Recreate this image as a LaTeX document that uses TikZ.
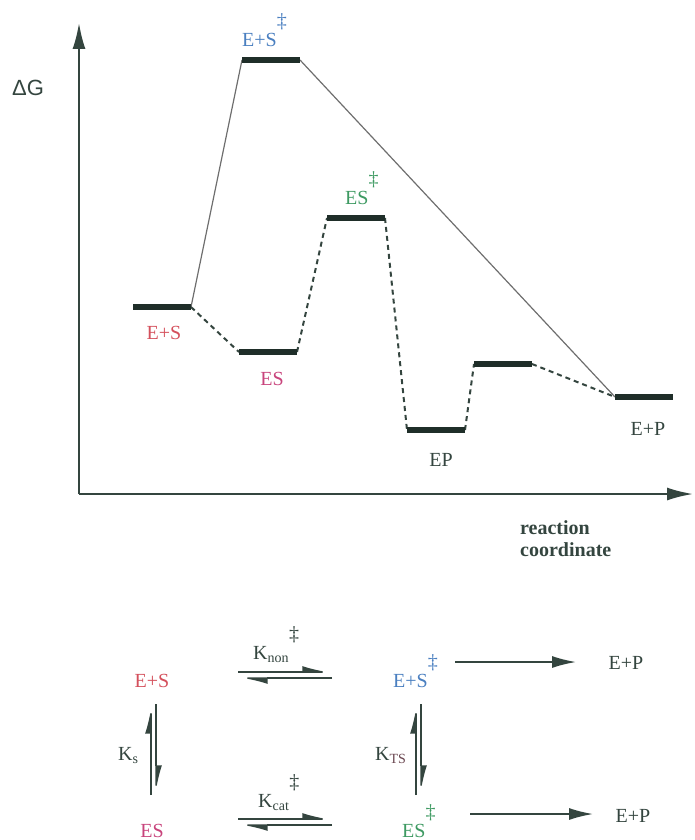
\documentclass[tikz,border=0pt]{standalone}
\usepackage{fontspec}
\setmainfont{Liberation Serif}
\newfontfamily\gsans{Liberation Sans}
\usepackage{tikz}
\usetikzlibrary{arrows.meta}
\definecolor{rxink}{HTML}{34453F}
\definecolor{rxbar}{HTML}{1F2E29}
\definecolor{rxline}{HTML}{6E6E6E}
\definecolor{rxred}{HTML}{D4505C}
\definecolor{rxpink}{HTML}{C8447C}
\definecolor{rxblue}{HTML}{4A7FC0}
\definecolor{rxgreen}{HTML}{3E9A62}
\definecolor{rxplum}{HTML}{6A4650}
\newcommand{\lblfont}{\fontsize{20}{22}\selectfont}
\newcommand{\dg}{\raisebox{0.95em}{‡}}

\begin{document}
\begin{tikzpicture}[x=1pt, y=-1pt, font=\lblfont, >=Latex,
  axis/.style={draw=rxink, line width=2pt, -{Latex[length=26pt,width=13pt]}},
  lvl/.style={draw=rxbar, line width=6pt},
  uncat/.style={draw=rxline, line width=1.2pt},
  cat/.style={draw=rxink, line width=2pt, dash pattern=on 5pt off 4pt},
  harp/.style={draw=rxink, line width=1.5pt, -{Latex[left,length=25pt,width=12pt]}},
  fwd/.style={draw=rxink, line width=1.6pt, -{Latex[length=24pt,width=12pt]}},
  lbl/.style={inner sep=0pt, text=rxink}]
  \useasboundingbox (0,0) rectangle (694,840);
  % ---------- energy profile ----------
  \coordinate (o) at (79,494);
  \coordinate (gtop) at (79,23);
  \coordinate (xend) at (693,494);
  \draw[axis] (o) -- (gtop);
  \draw[axis] (o) -- (xend);
  \node[lbl, font=\gsans\fontsize{22}{24}\selectfont] (dG) at (28,88) {ΔG};
  \node[lbl, font=\lblfont\bfseries, anchor=base west] (rc1) at (520,534) {reaction};
  \node[lbl, font=\lblfont\bfseries, anchor=base west] (rc2) at (520,556) {coordinate};
  \foreach \n/\x/\y in {eS/133/307, tN/242/60, eX/239/352, tC/327/218, eP/407/430, eQ/474/364, pR/615/397}
    { \coordinate (l\n) at (\x,\y); \coordinate (r\n) at (\x+58,\y); }
  \draw[uncat] (reS) -- (ltN);
  \draw[uncat] (rtN) -- (lpR);
  \draw[cat] (reS) -- (leX);
  \draw[cat] (reX) -- (ltC);
  \draw[cat] (rtC) -- (leP);
  \draw[cat] (reP) -- (leQ);
  \draw[cat] (reQ) -- (lpR);
  \foreach \n in {eS, tN, eX, tC, eP, eQ, pR}
    { \draw[lvl] (l\n) -- (r\n); }
  \node[lbl, text=rxred, anchor=base] (tES) at (164,339) {E+S};
  \node[lbl, text=rxblue, anchor=base west] (tTN) at (242,47) {E+S\dg};
  \node[lbl, text=rxpink, anchor=base] (tEX) at (272,385) {ES};
  \node[lbl, text=rxgreen, anchor=base west] (tTC) at (345,204) {ES\dg};
  \node[lbl, anchor=base] (tEP) at (441,466) {EP};
  \node[lbl, anchor=base] (tPR) at (648,435) {E+P};
  % ---------- thermodynamic cycle ----------
  \node[lbl, text=rxred, anchor=base] (cES) at (152,687) {E+S};
  \node[lbl, text=rxblue, anchor=base west] (cTN) at (393,687) {E+S\dg};
  \node[lbl, anchor=base] (cP1) at (626,669) {E+P};
  \node[lbl, text=rxpink, anchor=base] (cEX) at (152,837) {ES};
  \node[lbl, text=rxgreen, anchor=base west] (cTC) at (402,837) {ES\dg};
  \node[lbl, anchor=base] (cP2) at (633,822) {E+P};
  \node[lbl, anchor=base west] (knon) at (253,659) {K\textsubscript{non}\dg};
  \node[lbl, anchor=base west] (kcat) at (258,807) {K\textsubscript{cat}\dg};
  \node[lbl, anchor=base west] (ks) at (118,760) {K\textsubscript{s}};
  \node[lbl, anchor=base west] (kts) at (375,760) {K\textsubscript{\textcolor{rxplum}{TS}}};
  \foreach \n/\x/\y in {non/238/675, cat/238/822}
    { \coordinate (\n W) at (\x,\y); \coordinate (\n E) at (\x+94,\y);
      \draw[harp] ([yshift=3pt]\n W) -- ([yshift=3pt]\n E);
      \draw[harp] ([yshift=-3pt]\n E) -- ([yshift=-3pt]\n W); }
  \foreach \n/\x in {s/153.5, ts/418.5}
    { \coordinate (\n N) at (\x,704); \coordinate (\n S) at (\x,795);
      \draw[harp] ([xshift=-2.5pt]\n S) -- ([xshift=-2.5pt]\n N);
      \draw[harp] ([xshift=2.5pt]\n N) -- ([xshift=2.5pt]\n S); }
  \coordinate (a1) at (455,662);
  \coordinate (b1) at (576,662);
  \coordinate (a2) at (470,814);
  \coordinate (b2) at (593,814);
  \draw[fwd] (a1) -- (b1);
  \draw[fwd] (a2) -- (b2);
\end{tikzpicture}
\end{document}
